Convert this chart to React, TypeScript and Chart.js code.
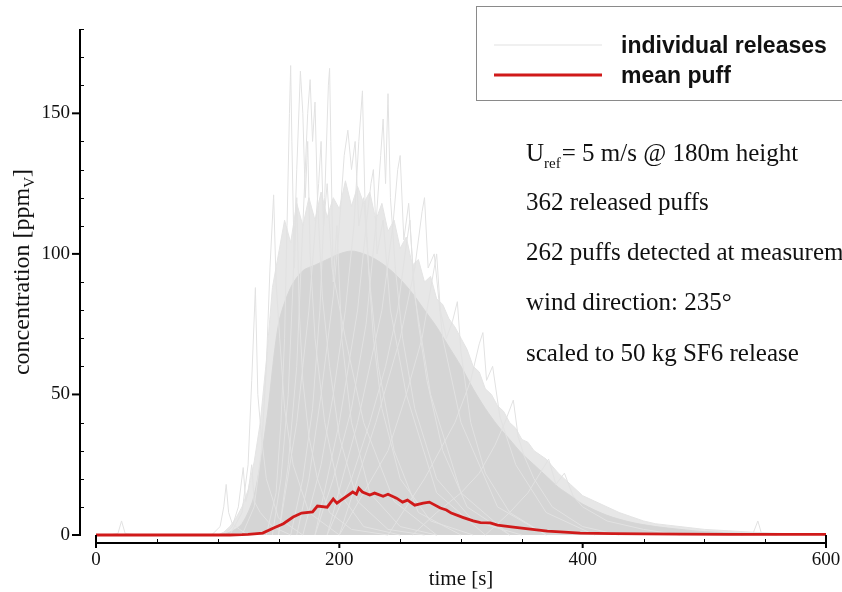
import React, { useEffect, useRef } from "react";
import { Chart, registerables } from "chart.js";

Chart.register(...registerables);

// ---------- axis definitions ----------
const X_MIN = 0;
const X_MAX = 600;
const Y_MIN = 0;
const Y_MAX = 180;
const X_TICKS = [0, 200, 400, 600];
const X_MINOR = [50, 100, 150, 250, 300, 350, 450, 500, 550];
const Y_TICKS = [0, 50, 100, 150];
const Y_MINOR = [10, 20, 30, 40, 60, 70, 80, 90, 110, 120, 130, 140, 160, 170, 180];

// ---------- mean puff ----------
const MEAN_T = [0, 20, 40, 60, 80, 100, 110, 120, 125, 130, 137, 146, 154, 162, 169, 178, 182, 190, 195, 198, 205, 211, 214, 216, 219, 225, 229, 236, 240, 247, 252, 256, 262, 269, 274, 283, 288, 292, 302, 310, 316, 324, 330, 343, 357, 371, 385, 398, 425, 450, 480, 520, 560, 600];
const MEAN_V = [0, 0, 0, 0, 0, 0, 0, 0.1, 0.2, 0.4, 0.7, 2.5, 4, 6.4, 7.8, 8.2, 10.3, 9.9, 12.8, 11.3, 13.5, 15.3, 14.5, 16.6, 15.3, 14.2, 14.9, 13.8, 14.5, 13.1, 11.7, 12.4, 10.6, 11.3, 11.7, 9.6, 8.9, 7.8, 6.2, 5.0, 4.4, 4.3, 3.5, 2.8, 2.1, 1.4, 1.0, 0.7, 0.5, 0.4, 0.3, 0.2, 0.2, 0.2];

// ---------- bundle of individual releases (envelopes of the overlapping traces) ----------
const OUTER_T = [100, 105, 110, 115, 120, 125, 130, 135, 140, 145, 150, 155, 160, 165, 170, 175, 180, 185, 190, 195, 200, 205, 210, 215, 220, 225, 230, 235, 240, 245, 250, 255, 260, 265, 270, 275, 280, 285, 290, 295, 300, 305, 310, 315, 320, 325, 330, 335, 340, 345, 350, 355, 360, 370, 380, 390, 400, 410, 420, 430, 440, 450, 460, 470, 480, 490, 500, 520, 540, 560, 580, 600];
const OUTER_V = [0, 1, 3, 6, 10, 16, 26, 40, 62, 88, 100, 112, 104, 118, 110, 120, 112, 122, 113, 120, 116, 126, 117, 124, 118, 122, 112, 118, 108, 112, 102, 106, 96, 98, 90, 92, 84, 82, 77, 74, 70, 66, 60, 58, 52, 50, 46, 44, 40, 38, 34, 33, 30, 27, 22, 18, 14, 12, 10, 8, 6.5, 5, 4, 3.5, 3, 2.5, 2, 1.5, 1, 0.6, 0.4, 0.3];
const DENSE_T = [100, 110, 120, 130, 140, 150, 160, 170, 180, 190, 200, 210, 220, 230, 240, 250, 260, 270, 280, 290, 300, 310, 320, 330, 340, 350, 360, 370, 380, 390, 400, 420, 440, 460, 480, 500, 540, 600];
const DENSE_V = [0, 1, 4, 14, 40, 75, 88, 94, 96, 98, 100, 101, 100, 98, 95, 91, 86, 80, 74, 67, 60, 52, 45, 39, 34, 29, 25, 21, 17, 14, 11, 7, 4.5, 3, 2, 1.2, 0.5, 0.2];

// ---------- single releases that stand out [time, concentration] ----------
const REL_A = [[140, 0], [148, 15], [152, 40], [155, 70], [157, 110], [159, 150], [160, 167], [161, 140], [163, 95], [165, 120], [167, 80], [170, 55], [175, 35], [182, 20], [192, 8], [210, 2], [240, 0]];
const REL_B = [[145, 0], [152, 20], [158, 50], [162, 90], [165, 130], [168, 165], [170, 150], [172, 120], [174, 140], [176, 100], [180, 70], [188, 40], [200, 15], [220, 3], [250, 0]];
const REL_C = [[150, 0], [158, 25], [165, 60], [170, 110], [174, 150], [176, 162], [178, 140], [180, 154], [182, 120], [186, 85], [192, 60], [200, 35], [215, 12], [240, 2], [270, 0]];
const REL_D = [[160, 0], [170, 20], [178, 45], [184, 80], [188, 120], [191, 160], [192, 166], [193, 140], [195, 90], [198, 110], [202, 70], [210, 40], [225, 15], [250, 3], [280, 0]];
const REL_E = [[165, 0], [175, 20], [185, 50], [195, 85], [200, 110], [204, 135], [207, 144], [210, 130], [213, 140], [216, 110], [220, 120], [225, 90], [232, 60], [245, 30], [265, 8], [300, 0]];
const REL_F = [[170, 0], [185, 25], [195, 50], [205, 80], [212, 110], [216, 140], [219, 158], [221, 120], [224, 95], [228, 70], [235, 45], [250, 20], [275, 5], [310, 0]];
const REL_G = [[180, 0], [195, 20], [210, 45], [222, 75], [230, 110], [234, 135], [236, 148], [238, 125], [240, 157], [242, 120], [246, 95], [252, 70], [262, 45], [280, 20], [310, 5], [350, 0]];
const REL_H = [[120, 0], [130, 10], [136, 30], [140, 60], [143, 95], [146, 121], [148, 90], [151, 70], [155, 45], [162, 25], [175, 8], [200, 0]];
const REL_I = [[110, 0], [120, 8], [125, 25], [128, 55], [131, 88], [133, 50], [136, 35], [140, 20], [150, 6], [170, 0]];
const REL_J = [[190, 0], [210, 20], [225, 40], [238, 60], [248, 80], [254, 100], [258, 112], [261, 90], [265, 75], [272, 55], [285, 30], [305, 10], [340, 0]];
const REL_K = [[200, 0], [220, 15], [240, 30], [255, 50], [268, 70], [276, 90], [280, 100], [283, 80], [288, 70], [293, 76], [297, 83], [300, 65], [308, 40], [320, 22], [340, 8], [370, 0]];
const REL_L = [[260, 0], [280, 8], [300, 15], [315, 22], [328, 32], [336, 40], [343, 48], [347, 35], [352, 28], [360, 20], [375, 10], [400, 3], [430, 0]];
const REL_M = [[10, 0], [18, 0.5], [21, 5], [24, 0.5], [35, 0]];
const REL_N = [[95, 0], [102, 3], [105, 10], [107, 18], [109, 8], [112, 4], [118, 2], [125, 0]];
const REL_O = [[105, 0], [112, 3], [117, 10], [121, 24], [123, 12], [125, 15], [128, 25], [130, 12], [135, 8], [145, 3], [160, 0]];
const REL_P = [[530, 0], [540, 0.5], [544, 5], [547, 0.5], [560, 0]];
const REL_Q = [[320, 0], [340, 8], [355, 15], [365, 22], [372, 27], [378, 18], [385, 22], [392, 14], [400, 10], [420, 5], [450, 2], [480, 0]];
const REL_R = [[150, 0], [165, 40], [175, 80], [183, 125], [185, 140], [187, 110], [190, 125], [194, 95], [205, 70], [220, 40], [245, 12], [280, 0]];
const REL_S = [[190, 0], [215, 40], [235, 80], [244, 110], [248, 130], [250, 135], [253, 105], [257, 118], [262, 85], [275, 50], [300, 15], [340, 0]];
const REL_T = [[180, 0], [200, 40], [215, 80], [222, 110], [226, 125], [228, 130], [231, 100], [236, 112], [242, 80], [255, 50], [280, 15], [320, 0]];
const REL_U = [[200, 0], [230, 40], [250, 70], [262, 95], [268, 115], [270, 120], [273, 95], [278, 100], [285, 70], [300, 40], [330, 10], [370, 0]];
const REL_V = [[240, 0], [270, 20], [295, 40], [308, 55], [315, 68], [318, 72], [321, 55], [326, 60], [332, 42], [345, 25], [370, 8], [410, 0]];
const RELEASES = [REL_A, REL_B, REL_C, REL_D, REL_E, REL_F, REL_G, REL_H, REL_I, REL_J, REL_K, REL_L, REL_M, REL_N, REL_O, REL_P, REL_Q, REL_R, REL_S, REL_T, REL_U, REL_V];

// ---------- texts ----------
const LEGEND_LABELS = ["individual releases", "mean puff"];
const Y_TITLE = "concentration [ppm";
const Y_TITLE_SUB = "V";
const X_TITLE = "time [s]";
const NOTES = ["362 released puffs", "262 puffs detected at measurement", "wind direction: 235°", "scaled to 50 kg SF6 release"];

const SERIF = "'Liberation Serif', 'Times New Roman', serif";
const SANS = "'Liberation Sans', Arial, sans-serif";
const RED = "#d01a1a";
const LIGHT = "#e2e2e2";

const zip = (t: number[], v: number[]) => t.map((tt, i) => ({ x: tt, y: v[i] }));

const decor = {
  id: "decor",
  afterDraw(chart: any) {
    const { ctx, chartArea, scales } = chart;
    const xs = scales.x;
    const ys = scales.y;
    ctx.save();
    ctx.strokeStyle = "#000";
    ctx.lineCap = "butt";
    // y axis
    const ax = chartArea.left - 16;
    const yTop = ys.getPixelForValue(Y_MAX);
    const yBot = ys.getPixelForValue(0);
    ctx.lineWidth = 2;
    ctx.beginPath();
    ctx.moveTo(ax, yTop);
    ctx.lineTo(ax, yBot + 1);
    ctx.stroke();
    for (const v of Y_TICKS) {
      const p = ys.getPixelForValue(v);
      ctx.beginPath();
      ctx.moveTo(ax - 8, p);
      ctx.lineTo(ax, p);
      ctx.stroke();
    }
    ctx.lineWidth = 1;
    for (const v of Y_MINOR) {
      const p = Math.round(ys.getPixelForValue(v)) + 0.5;
      ctx.beginPath();
      ctx.moveTo(ax, p);
      ctx.lineTo(ax + 4, p);
      ctx.stroke();
    }
    // x axis
    const ay = chartArea.bottom + 8;
    const x0 = xs.getPixelForValue(X_MIN);
    const x1 = xs.getPixelForValue(X_MAX);
    ctx.lineWidth = 2;
    ctx.beginPath();
    ctx.moveTo(x0 - 1, ay);
    ctx.lineTo(x1 + 1, ay);
    ctx.stroke();
    for (const v of X_TICKS) {
      const p = xs.getPixelForValue(v);
      ctx.beginPath();
      const up = v === X_MIN || v === X_MAX ? 8 : 0;
      ctx.moveTo(p, ay - up);
      ctx.lineTo(p, ay + 5);
      ctx.stroke();
    }
    ctx.lineWidth = 1;
    for (const v of X_MINOR) {
      const p = Math.round(xs.getPixelForValue(v)) + 0.5;
      ctx.beginPath();
      ctx.moveTo(p, ay - 4);
      ctx.lineTo(p, ay);
      ctx.stroke();
    }
    // axis titles
    ctx.fillStyle = "#111";
    ctx.font = `21px ${SERIF}`;
    ctx.textAlign = "center";
    ctx.textBaseline = "alphabetic";
    ctx.fillText(X_TITLE, (x0 + x1) / 2, 585);
    ctx.save();
    ctx.translate(29, 272);
    ctx.rotate(-Math.PI / 2);
    ctx.font = `24px ${SERIF}`;
    const w1 = ctx.measureText(Y_TITLE).width;
    ctx.font = `15px ${SERIF}`;
    const w2 = ctx.measureText(Y_TITLE_SUB).width;
    ctx.font = `24px ${SERIF}`;
    const w3 = ctx.measureText("]").width;
    const start = -(w1 + w2 + w3) / 2;
    ctx.textAlign = "left";
    ctx.fillText(Y_TITLE, start, 0);
    ctx.font = `15px ${SERIF}`;
    ctx.fillText(Y_TITLE_SUB, start + w1, 5);
    ctx.font = `24px ${SERIF}`;
    ctx.fillText("]", start + w1 + w2, 0);
    ctx.restore();

    // legend box
    ctx.fillStyle = "#fff";
    ctx.fillRect(476, 6, 380, 94);
    ctx.strokeStyle = "#8a8a8a";
    ctx.lineWidth = 1;
    ctx.strokeRect(476.5, 6.5, 380, 94);
    ctx.strokeStyle = LIGHT;
    ctx.lineWidth = 1.2;
    ctx.beginPath();
    ctx.moveTo(494, 45);
    ctx.lineTo(602, 45);
    ctx.stroke();
    ctx.strokeStyle = RED;
    ctx.lineWidth = 2.8;
    ctx.beginPath();
    ctx.moveTo(494, 75);
    ctx.lineTo(602, 75);
    ctx.stroke();
    ctx.fillStyle = "#111";
    ctx.font = `bold 23px ${SANS}`;
    ctx.textAlign = "left";
    ctx.fillText(LEGEND_LABELS[0], 621, 53);
    ctx.fillText(LEGEND_LABELS[1], 621, 83);

    // annotations
    ctx.font = `25px ${SERIF}`;
    ctx.fillStyle = "#111";
    const tx = 526;
    ctx.fillText("U", tx, 161);
    const uw = ctx.measureText("U").width;
    ctx.font = `15px ${SERIF}`;
    ctx.fillText("ref", tx + uw, 168);
    const rw = ctx.measureText("ref").width;
    ctx.font = `25px ${SERIF}`;
    ctx.fillText("= 5 m/s @ 180m height", tx + uw + rw + 1, 161);
    const base = [210, 260, 310, 361];
    NOTES.forEach((s, i) => ctx.fillText(s, tx, base[i]));
    ctx.restore();
  },
};

export default function App() {
  const ref = useRef<HTMLCanvasElement | null>(null);
  useEffect(() => {
    if (!ref.current) return;
    const relSets = RELEASES.map((r) => ({
      data: r.map(([t, v]) => ({ x: t, y: v })),
      borderColor: LIGHT,
      borderWidth: 1,
      pointRadius: 0,
      fill: false,
      tension: 0,
      clip: false as any,
      order: 1,
    }));
    const chart = new Chart(ref.current, {
      type: "line",
      data: {
        datasets: [
          {
            label: LEGEND_LABELS[1],
            data: zip(MEAN_T, MEAN_V),
            borderColor: RED,
            borderWidth: 2.8,
            pointRadius: 0,
            fill: false,
            tension: 0,
            clip: false as any,
            order: 0,
          },
          ...relSets,
          {
            data: zip(DENSE_T, DENSE_V),
            borderColor: "#d6d6d6",
            backgroundColor: "#d5d5d5",
            borderWidth: 1,
            pointRadius: 0,
            fill: "origin",
            tension: 0.3,
            order: 3,
          },
          {
            label: LEGEND_LABELS[0],
            data: zip(OUTER_T, OUTER_V),
            borderColor: "#e4e4e4",
            backgroundColor: "#e7e7e7",
            borderWidth: 1,
            pointRadius: 0,
            fill: "origin",
            tension: 0,
            order: 4,
          },
        ] as any,
      },
      options: {
        responsive: false,
        animation: false,
        layout: { padding: { top: 29, right: 16, left: 0, bottom: 0 } },
        plugins: { legend: { display: false }, tooltip: { enabled: false } },
        scales: {
          x: {
            type: "linear",
            min: X_MIN,
            max: X_MAX,
            afterBuildTicks: (s: any) => {
              s.ticks = X_TICKS.map((v) => ({ value: v }));
            },
            afterFit: (s: any) => {
              s.height = 57;
              s.paddingLeft = 0;
              s.paddingRight = 0;
            },
            grid: { display: false, drawTicks: false },
            border: { display: false },
            ticks: {
              font: { family: SERIF, size: 19 },
              color: "#111",
              padding: 14,
              maxRotation: 0,
              autoSkip: false,
            },
          },
          y: {
            type: "linear",
            min: Y_MIN,
            max: Y_MAX,
            afterBuildTicks: (s: any) => {
              s.ticks = Y_TICKS.map((v) => ({ value: v }));
            },
            afterFit: (s: any) => {
              s.width = 96;
              s.paddingTop = 0;
              s.paddingBottom = 0;
            },
            grid: { display: false, drawTicks: false },
            border: { display: false },
            ticks: {
              font: { family: SERIF, size: 19 },
              color: "#111",
              padding: 26,
              autoSkip: false,
            },
          },
        },
      },
      plugins: [decor],
    });
    return () => chart.destroy();
  }, []);
  return (
    <div style={{ position: "fixed", left: 0, top: 0, width: 842, height: 592, background: "#fff" }}>
      <canvas ref={ref} width={842} height={592} />
    </div>
  );
}
